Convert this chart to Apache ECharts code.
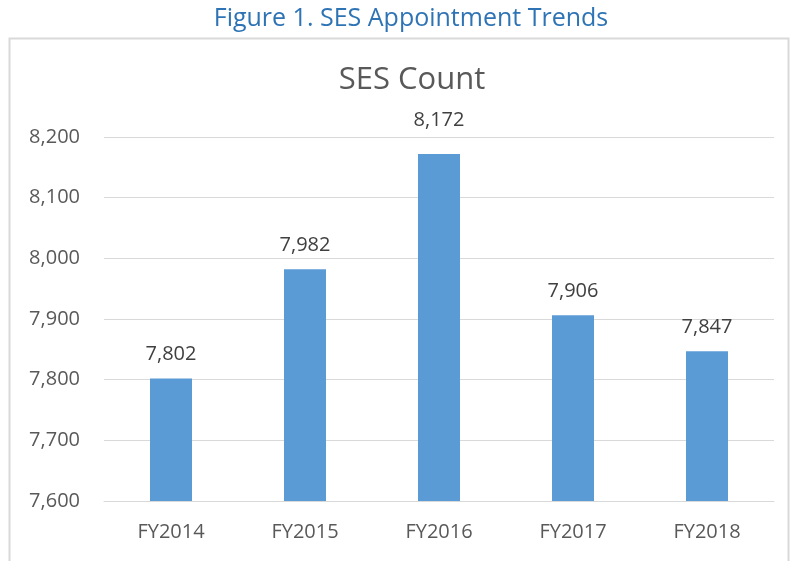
<!DOCTYPE html>
<html>
<head>
<meta charset="utf-8">
<script src="https://cdn.jsdelivr.net/npm/echarts@6/dist/echarts.min.js"></script>
<style>
  html, body { margin: 0; padding: 0; background: #fff; }
  #chart { width: 790px; height: 561px; }
</style>
</head>
<body>
<div id="chart"></div>
<script>
// data
const years = ["FY2014", "FY2015", "FY2016", "FY2017", "FY2018"];
const sesCount = [7802, 7982, 8172, 7906, 7847];
const yMin = 7600;
const yMax = 8200;
const yStep = 100;

const fmt = v => Number(v).toLocaleString("en-US");
const font = "'Open Sans', 'Liberation Sans', sans-serif";

let chart = echarts.init(document.getElementById("chart"));
let option = {
  backgroundColor: "#fff",
  title: [
    {
      text: "Figure 1. SES Appointment Trends",
      left: 406,
      top: 1,
      textAlign: "center",
      textStyle: { color: "#2E74B5", fontSize: 25, fontWeight: "normal", fontFamily: font }
    },
    {
      text: "SES Count",
      left: 407,
      top: 60,
      textAlign: "center",
      textStyle: { color: "#595959", fontSize: 31, fontWeight: "normal", fontFamily: font }
    }
  ],
  graphic: [
    {
      type: "rect",
      shape: { x: 9.5, y: 38.5, width: 779, height: 540 },
      style: { fill: null, stroke: "#D9D9D9", lineWidth: 2 },
      silent: true
    }
  ],
  grid: {
    left: 104,
    right: 16,
    top: 137,
    bottom: 60
  },
  xAxis: {
    type: "category",
    data: years,
    axisLine: { lineStyle: { color: "#D9D9D9", width: 1 } },
    axisTick: { show: false },
    axisLabel: { color: "#595959", fontSize: 20, fontFamily: font, margin: 21 }
  },
  yAxis: {
    type: "value",
    min: yMin,
    max: yMax,
    interval: yStep,
    axisLine: { show: false },
    axisTick: { show: false },
    axisLabel: {
      color: "#595959",
      fontSize: 20,
      fontFamily: font,
      margin: 24,
      formatter: v => fmt(v)
    },
    splitLine: { lineStyle: { color: "#D9D9D9", width: 1 } }
  },
  series: [
    {
      type: "bar",
      // the tallest bar's label sits a bit higher, as in the original
      data: sesCount.map(v => v === Math.max(...sesCount) ? { value: v, label: { distance: 24 } } : v),
      barWidth: 42,
      itemStyle: { color: "#5B9BD5" },
      label: {
        show: true,
        position: "top",
        distance: 14,
        color: "#404040",
        fontSize: 20,
        fontFamily: font,
        formatter: p => fmt(p.value)
      }
    }
  ]
};
chart.setOption(option, true);
</script>
</body>
</html>
